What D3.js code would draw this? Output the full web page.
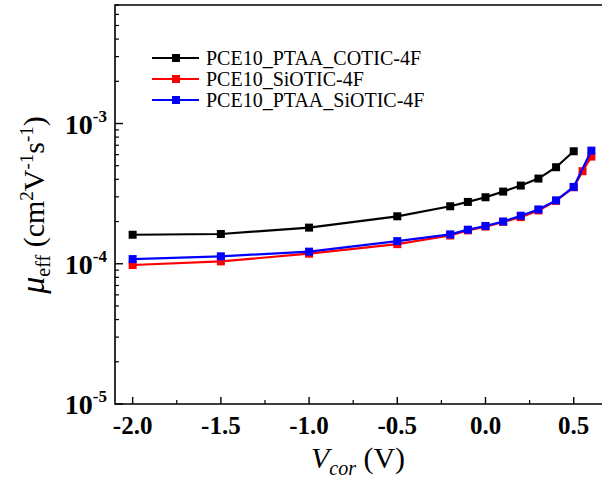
<!DOCTYPE html>
<html>
<head>
<meta charset="utf-8">
<script src="https://cdn.jsdelivr.net/npm/d3@7"></script>
<style>
  html, body { margin: 0; padding: 0; background: #fff; }
  svg { display: block; font-family: "Liberation Serif", "Times New Roman", serif; }
</style>
</head>
<body>
<svg id="chart" width="602" height="486"></svg>
<script>
// values (V, cm2 V-1 s-1)
const vBlack = [-2.0, -1.5, -1.0, -0.5, -0.2, -0.1, 0.0, 0.1, 0.2, 0.3, 0.4, 0.5];
const muBlack = [1.61e-4, 1.63e-4, 1.81e-4, 2.18e-4, 2.57e-4, 2.76e-4, 2.98e-4, 3.27e-4, 3.61e-4, 4.05e-4, 4.88e-4, 6.34e-4];

const vRed = [-2.0, -1.5, -1.0, -0.5, -0.2, -0.1, 0.0, 0.1, 0.2, 0.3, 0.4, 0.5, 0.55, 0.6];
const muRed = [0.98e-4, 1.04e-4, 1.18e-4, 1.38e-4, 1.59e-4, 1.73e-4, 1.84e-4, 1.99e-4, 2.15e-4, 2.40e-4, 2.81e-4, 3.51e-4, 4.57e-4, 5.81e-4];

const vBlue = [-2.0, -1.5, -1.0, -0.5, -0.2, -0.1, 0.0, 0.1, 0.2, 0.3, 0.4, 0.5, 0.6];
const muBlue = [1.08e-4, 1.13e-4, 1.22e-4, 1.45e-4, 1.62e-4, 1.75e-4, 1.86e-4, 2.00e-4, 2.20e-4, 2.44e-4, 2.83e-4, 3.53e-4, 6.41e-4];

const seriesNames = ["PCE10_PTAA_COTIC-4F", "PCE10_SiOTIC-4F", "PCE10_PTAA_SiOTIC-4F"];
const seriesColors = ["#000000", "#ff0000", "#0000ff"];

const xTicks = [-2.0, -1.5, -1.0, -0.5, 0.0, 0.5];
const xMinorTicks = [-1.75, -1.25, -0.75, -0.25, 0.25];
const yTicks = [1e-5, 1e-4, 1e-3];

const series = [
  {x: vBlack, y: muBlack},
  {x: vRed, y: muRed},
  {x: vBlue, y: muBlue}
].map((s, i) => ({name: seriesNames[i], color: seriesColors[i], pts: s.x.map((v, k) => [v, s.y[k]])}));

const svg = d3.select("#chart");
const pLeft = 115, pTop = 5, pBottom = 404, pRight = 609;

const x = d3.scaleLinear().domain([-2.1, 0.7]).range([pLeft, pRight]);
const y = d3.scaleLog().domain([1e-5, 7e-3]).range([pBottom, pTop]);

// minor log ticks
const yMinor = [];
[1e-5, 1e-4, 1e-3].forEach(d => { for (let k = 2; k <= 9; k++) if (d * k <= 7e-3) yMinor.push(d * k); });

const fmt = d3.format(".1f");

// frame
svg.append("path")
  .attr("d", `M${pRight},${pTop}H${pLeft}V${pBottom}H${pRight}`)
  .attr("fill", "none").attr("stroke", "#000").attr("stroke-width", 1.6);

// x ticks (inward)
svg.append("g").selectAll("line").data(xTicks).join("line")
  .attr("x1", d => x(d)).attr("x2", d => x(d))
  .attr("y1", pBottom).attr("y2", pBottom - 7)
  .attr("stroke", "#000").attr("stroke-width", 1.4);
svg.append("g").selectAll("line").data(xMinorTicks).join("line")
  .attr("x1", d => x(d)).attr("x2", d => x(d))
  .attr("y1", pBottom).attr("y2", pBottom - 4)
  .attr("stroke", "#000").attr("stroke-width", 1.2);
svg.append("g").selectAll("text").data(xTicks).join("text")
  .attr("x", d => x(d)).attr("y", pBottom + 30)
  .attr("text-anchor", "middle")
  .attr("font-size", 25).attr("font-weight", "bold")
  .text(d => fmt(d).replace("−", "-"));

// y ticks (inward)
svg.append("g").selectAll("line").data(yTicks).join("line")
  .attr("x1", pLeft).attr("x2", pLeft + 8)
  .attr("y1", d => y(d)).attr("y2", d => y(d))
  .attr("stroke", "#000").attr("stroke-width", 1.4);
svg.append("g").selectAll("line").data(yMinor).join("line")
  .attr("x1", pLeft).attr("x2", pLeft + 4)
  .attr("y1", d => y(d)).attr("y2", d => y(d))
  .attr("stroke", "#000").attr("stroke-width", 1.2);
const yl = svg.append("g").selectAll("text").data(yTicks).join("text")
  .attr("x", pLeft - 8).attr("y", d => y(d) + 10)
  .attr("text-anchor", "end")
  .attr("font-weight", "bold");
yl.append("tspan").attr("font-size", 28).text("10");
yl.append("tspan").attr("font-size", 17).attr("dy", -12).text(d => String(Math.round(Math.log10(d))));

// lines and markers
const line = d3.line().x(d => x(d[0])).y(d => y(d[1]));
series.forEach(s => {
  svg.append("path").datum(s.pts)
    .attr("d", line).attr("fill", "none")
    .attr("stroke", s.color).attr("stroke-width", 2.2);
  svg.append("g").selectAll("rect").data(s.pts).join("rect")
    .attr("x", d => x(d[0]) - 4).attr("y", d => y(d[1]) - 4)
    .attr("width", 8).attr("height", 8)
    .attr("fill", s.color);
});

// legend
const legendY = [58, 79, 100];
const lg = svg.append("g").selectAll("g").data(series).join("g")
  .attr("transform", (d, i) => `translate(0,${legendY[i]})`);
lg.append("line").attr("x1", 152).attr("x2", 199).attr("y1", 0).attr("y2", 0)
  .attr("stroke", d => d.color).attr("stroke-width", 2.2);
lg.append("rect").attr("x", 172).attr("y", -4).attr("width", 8).attr("height", 8)
  .attr("fill", d => d.color);
lg.append("text").attr("x", 206).attr("y", 7).attr("font-size", 20)
  .text(d => d.name);

// x title
const xt = svg.append("text").attr("x", 358).attr("y", 468).attr("text-anchor", "middle").attr("font-size", 30);
xt.append("tspan").attr("font-style", "italic").text("V");
xt.append("tspan").attr("font-style", "italic").attr("font-size", 20).attr("dy", 7).text("cor");
xt.append("tspan").attr("dy", -7).text(" (V)");

// y title
const yt = svg.append("text")
  .attr("transform", "translate(44,205) rotate(-90)")
  .attr("text-anchor", "middle").attr("font-size", 30);
yt.append("tspan").attr("font-style", "italic").attr("font-size", 34).text("μ");
yt.append("tspan").attr("font-size", 20).attr("dy", 6).text("eff");
yt.append("tspan").attr("dy", -6).text(" (cm");
yt.append("tspan").attr("font-size", 19).attr("dy", -11).text("2");
yt.append("tspan").attr("dy", 11).text("V");
yt.append("tspan").attr("font-size", 19).attr("dy", -11).text("-1");
yt.append("tspan").attr("dy", 11).text("s");
yt.append("tspan").attr("font-size", 19).attr("dy", -11).text("-1");
yt.append("tspan").attr("dy", 11).text(")");
</script>
</body>
</html>
